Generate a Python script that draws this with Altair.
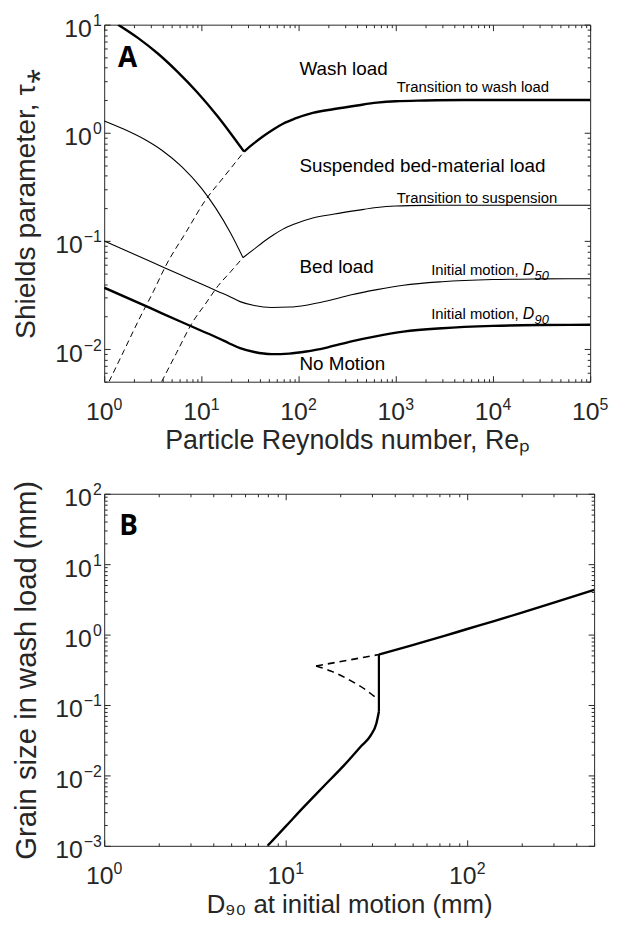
import altair as alt
import pandas as pd

FONT = "Liberation Sans"
INK = "#262626"

# ---------------- Panel A : Shields parameter vs particle Reynolds number ----------------
washL_re = [1.39, 2.22, 3.56, 5.69, 9.10, 14.6, 20.2, 27.5]
washL_tau = [10.0, 7.55, 5.41, 3.66, 2.36, 1.43, 0.977, 0.67]
washR_re = [27.5, 34.6, 43.6, 54.9, 69.1, 91, 140, 233, 400, 640, 1000, 2000, 5000, 100000]
washR_tau = [0.67, 0.798, 0.935, 1.075, 1.214, 1.35, 1.53, 1.66, 1.79, 1.90, 1.96, 1.99, 2.01, 2.01]

suspL_re = [1, 1.585, 2.51, 3.98, 6.31, 10, 14.1, 19.95, 26.8]
suspL_tau = [1.29, 1.084, 0.885, 0.683, 0.485, 0.308, 0.200, 0.1186, 0.0702]
suspR_re = [26.8, 34.6, 43.6, 54.9, 69.1, 91, 140, 233, 400, 640, 1000, 2000, 5000, 100000]
suspR_tau = [0.0702, 0.0836, 0.0983, 0.1136, 0.1287, 0.1435, 0.1630, 0.1775, 0.1917, 0.2038, 0.2103, 0.2134, 0.2140, 0.2140]

init_re = [1, 3, 6, 10, 15, 19, 25, 35, 53, 80, 120, 200, 350, 640, 1200, 3000, 10000, 30000, 100000]
d50_tau = [0.1, 0.0646, 0.049, 0.040, 0.034, 0.031, 0.0275, 0.0253, 0.0243, 0.0245, 0.0255, 0.028, 0.0318, 0.0355, 0.039, 0.042, 0.044, 0.0446, 0.0448]
d90_tau = [0.037, 0.0239, 0.0181, 0.0148, 0.0126, 0.0114, 0.0102, 0.0094, 0.0090, 0.0091, 0.0095, 0.0104, 0.0118, 0.0132, 0.0145, 0.0156, 0.0164, 0.0167, 0.0168]

dash1_re = [1.12, 1.6, 2.28, 3.2, 4.3, 7.0, 11.0, 17.0, 27.5]
dash1_tau = [0.005, 0.0097, 0.0188, 0.034, 0.059, 0.122, 0.238, 0.39, 0.67]
dash2_re = [3.9, 5.5, 8.1, 11.0, 14.9, 20.0, 26.8]
dash2_tau = [0.005, 0.0091, 0.0177, 0.0262, 0.0386, 0.052, 0.0702]

# ---------------- Panel B : grain size in wash load vs D90 ----------------
low_d90 = [7.94, 10, 12.7, 16, 21.0, 26, 29.4, 31.6, 32.6]
low_gs = [0.001, 0.00189, 0.00366, 0.0068, 0.014, 0.026, 0.037, 0.055, 0.080]
vert_d90 = [32.6, 32.6]
vert_gs = [0.080, 0.52]
up_d90 = [32.6, 50, 74, 100, 139, 200, 300, 500]
up_gs = [0.52, 0.71, 0.95, 1.20, 1.54, 2.05, 2.84, 4.32]
dashU_d90 = [14.7, 32.6]
dashU_gs = [0.358, 0.52]
dashL_d90 = [14.7, 17.7, 22.9, 28.0, 31.3]
dashL_gs = [0.358, 0.304, 0.22, 0.16, 0.128]

# annotations (data coordinates)
ann_text = ["Wash load", "Suspended bed-material load", "Bed load", "No Motion"]
ann_x = [102, 102, 102, 102]
ann_y = [3.86, 0.498, 0.058, 0.0073]
small_text = ["Transition to wash load", "Transition to suspension"]
small_x = [1024, 1024]
small_y = [2.64, 0.248]
init_labels = ["50", "90"]
init_x = [18400, 18400]
init_y = [0.0542, 0.0209]


def series(name, kind, xs, ys):
    return pd.DataFrame({"x": xs, "y": ys, "s": name, "kind": kind, "i": list(range(len(xs)))})


dfA = pd.concat([
    series("washL", "thick", washL_re, washL_tau),
    series("washR", "thick", washR_re, washR_tau),
    series("d90", "thick", init_re, d90_tau),
    series("suspL", "thin", suspL_re, suspL_tau),
    series("suspR", "thin", suspR_re, suspR_tau),
    series("d50", "thin", init_re, d50_tau),
    series("dash1", "dash", dash1_re, dash1_tau),
    series("dash2", "dash", dash2_re, dash2_tau),
])
dfB = pd.concat([
    series("low", "thick", low_d90, low_gs),
    series("up", "thick", up_d90, up_gs),
    series("vert", "thicklin", vert_d90, vert_gs),
    series("dashU", "dashthick", dashU_d90, dashU_gs),
    series("dashL", "dashthick", dashL_d90, dashL_gs),
])

MAJOR = "abs(log(datum.value)/LN10 - round(log(datum.value)/LN10)) < 1e-6"
EXP = "['\u22123','\u22122','\u22121','0','1','2','3','4','5'][round(log(datum.value)/LN10)+3]"


def panel(df, xdom, ydom, W, H, xvals, yvals, xtitle, ytitle, ytsize, ytpad, xtsize, xtpad):
    xs = alt.Scale(type="log", domain=xdom, nice=False)
    ys = alt.Scale(type="log", domain=ydom, nice=False)

    def enc(xaxis, yaxis):
        return dict(x=alt.X("x:Q", scale=xs, axis=xaxis), y=alt.Y("y:Q", scale=ys, axis=yaxis))

    def lines(kind, width, dash=None, interp="monotone"):
        kw = dict(color="black", strokeWidth=width, clip=True, interpolate=interp)
        if dash:
            kw["strokeDash"] = dash
        return alt.Chart(df).transform_filter(alt.datum.kind == kind).mark_line(**kw).encode(
            detail="s:N", order="i:Q", **enc(None, None))

    base = dict(grid=False, domain=False, labelOverlap=False, labelFlush=False, labelFont=FONT,
                labelColor=INK, titleFont=FONT, titleColor=INK, titleFontWeight="normal")
    # "10" part of the tick labels + axis titles
    lab = alt.Chart(df).mark_point(opacity=0, clip=True).encode(**enc(
        alt.Axis(orient="bottom", values=xvals, ticks=False, labelExpr="'10'", labelFontSize=25,
                 labelPadding=18, labelOffset=-5, title=xtitle, titleFontSize=xtsize, titlePadding=xtpad, **base),
        alt.Axis(orient="left", values=yvals, ticks=False, labelExpr="'10'", labelFontSize=25, labelAlign="right",
                 labelBaseline="middle", labelOffset=4,
                 labelPadding={"condition": {"test": "datum.value < 1", "value": 22}, "value": 13},
                 title=ytitle, titleFontSize=ytsize, titlePadding=ytpad, **base)))
    # exponent part of the tick labels
    ex = alt.Chart(df).mark_point(opacity=0, clip=True).encode(**enc(
        alt.Axis(orient="bottom", values=xvals, ticks=False, labelExpr=EXP, labelFontSize=16, labelAlign="left",
                 labelPadding=15, labelOffset=9, title=None, **base),
        alt.Axis(orient="left", values=yvals, ticks=False, labelExpr=EXP, labelFontSize=16, labelAlign="right",
                 labelBaseline="middle", labelOffset=-4, labelPadding=3, title=None, **base)))
    # inward ticks on all four sides
    tsize = {"condition": {"test": MAJOR, "value": 6}, "value": 3}
    tk = dict(labels=False, domain=False, grid=False, ticks=True, tickCount=20, tickColor=INK,
              tickWidth=1, tickSize=tsize, title=None)
    t1 = alt.Chart(df).mark_point(opacity=0, clip=True).encode(**enc(
        alt.Axis(orient="top", offset=-H, **tk), alt.Axis(orient="right", offset=-W, **tk)))
    t2 = alt.Chart(df).mark_point(opacity=0, clip=True).encode(**enc(
        alt.Axis(orient="bottom", offset=-H, **tk), alt.Axis(orient="left", offset=-W, **tk)))

    layers = [lab, ex, t1, t2,
              lines("thick", 2.4), lines("thicklin", 2.2, interp="linear"), lines("thin", 1.1),
              lines("dash", 1.0, [6, 4]), lines("dashthick", 1.6, [7, 5])]
    return layers, enc


layersA, encA = panel(dfA, [1, 1e5], [0.005, 10], 490, 360, [1, 10, 100, 1000, 10000, 100000],
                      [0.01, 0.1, 1, 10], "Particle Reynolds number, Re\u209a", "Shields parameter, \u03c4\u204e",
                      28.5, 14, 27, 3)

txtA = pd.DataFrame({"t": ann_text, "x": ann_x, "y": ann_y})
smA = pd.DataFrame({"t": small_text, "x": small_x, "y": small_y})
inA = pd.DataFrame({"t": init_labels, "x": init_x, "y": init_y})
letA = pd.DataFrame({"t": ["A"], "x": [1.39], "y": [4.78]})

textA = [
    alt.Chart(txtA).mark_text(font=FONT, fontSize=19, align="left", baseline="middle", color="black").encode(
        text="t:N", **encA(None, None)),
    alt.Chart(smA).mark_text(font=FONT, fontSize=15, align="left", baseline="middle", color="black").encode(
        text="t:N", **encA(None, None)),
    alt.Chart(inA).mark_text(font=FONT, fontSize=15, align="right", baseline="middle", color="black").encode(
        text=alt.value("Initial motion,"), **encA(None, None)),
    alt.Chart(inA).mark_text(font=FONT, fontSize=16, fontStyle="italic", align="left", baseline="middle", dx=4,
                             color="black").encode(text=alt.value("D"), **encA(None, None)),
    alt.Chart(inA).mark_text(font=FONT, fontSize=13, fontStyle="italic", align="left", baseline="middle", dx=16,
                             dy=6, color="black").encode(text="t:N", **encA(None, None)),
    alt.Chart(letA).mark_text(font="Open Sans", fontSize=28, fontWeight="bold", align="left", baseline="middle",
                              color="black").encode(text="t:N", **encA(None, None)),
]

chartA = alt.layer(*(layersA + textA)).resolve_axis(x="independent", y="independent").properties(
    width=490, height=360)

layersB, encB = panel(dfB, [1, 500], [0.001, 100], 494, 355, [1, 10, 100],
                      [0.001, 0.01, 0.1, 1, 10, 100], "D\u2089\u2080 at initial motion (mm)",
                      "Grain size in wash load (mm)", 29.5, 13, 26, 3)
letB = pd.DataFrame({"t": ["B"], "x": [1.21], "y": [33.2]})
textB = [alt.Chart(letB).mark_text(font="Open Sans", fontSize=28, fontWeight="bold", align="left",
                                   baseline="middle", color="black").encode(text="t:N", **encB(None, None))]
chartB = alt.layer(*(layersB + textB)).resolve_axis(x="independent", y="independent").properties(
    width=494, height=355)

chart = alt.vconcat(chartA, chartB, spacing=113, bounds="flush").properties(
    padding={"left": 3, "top": 0, "right": 0, "bottom": 0}
).configure_view(stroke=INK, strokeWidth=1)

chart.save("out.html", embed_options={"renderer": "svg", "actions": False})
